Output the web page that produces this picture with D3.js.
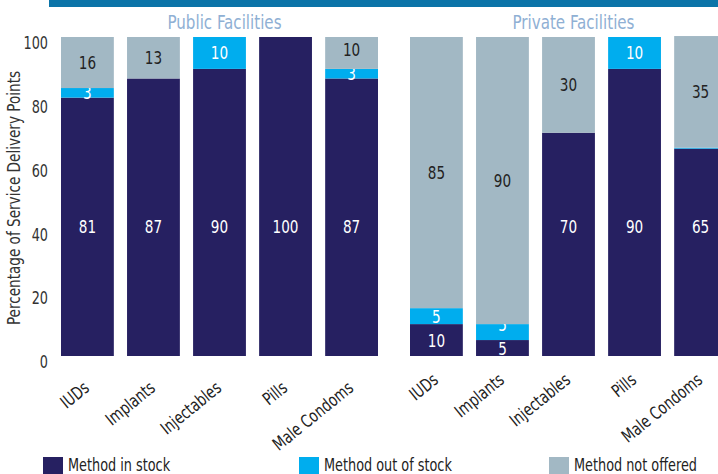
<!DOCTYPE html>
<html><head><meta charset="utf-8">
<script src="https://cdn.jsdelivr.net/npm/d3@7"></script>
<style>
body{margin:0;background:#fff;}
text{font-family:"DejaVu Sans Condensed","Liberation Sans Narrow",sans-serif;font-stretch:condensed;}
</style></head>
<body><svg id="c" width="718" height="474"></svg>
<script>
const categories = ["IUDs","Implants","Injectables","Pills","Male Condoms"];
const panels = ["Public Facilities","Private Facilities"];
const seriesNames = ["Method in stock","Method out of stock","Method not offered"];
const publicInStock = [81,87,90,100,87];
const publicOutOfStock = [3,0,10,0,3];
const publicNotOffered = [16,13,0,0,10];
const privateInStock = [10,5,70,90,65];
const privateOutOfStock = [5,5,0,10,0.3];
const privateNotOffered = [85,90,30,0,35];
const yTicks = [0,20,40,60,80,100];

const colors = ["#262061","#00adee","#a2b8c4"];
const labelColors = ["#ffffff","#ffffff","#222222"];
const SX = 0.84;
const svg = d3.select("#c");

svg.append("rect").attr("x",49).attr("y",0).attr("width",669).attr("height",7).attr("fill","#0b74a8");

const y = d3.scaleLinear().domain([0,100]).range([356,37]);

// y axis
const yAxis = d3.axisLeft(y).tickValues(yTicks).tickSize(0).tickPadding(0);
const ga = svg.append("g").attr("transform","translate(48,0)").call(yAxis);
ga.select(".domain").remove();
ga.selectAll("text").attr("font-size",17).attr("fill","#333").attr("dy","0.75em")
  .attr("transform",`translate(0,-1) scale(${SX},1)`);

svg.append("text").attr("transform",`translate(20,198) rotate(-90) scale(${SX},1)`)
  .attr("text-anchor","middle").attr("font-size",18).attr("fill","#333")
  .text("Percentage of Service Delivery Points");

const panelData = [
  [publicInStock, publicOutOfStock, publicNotOffered],
  [privateInStock, privateOutOfStock, privateNotOffered]
];
const ranges = [[61,378],[410,727]];
const labelY = [390, 382];

panelData.forEach((series, p) => {
  const x = d3.scaleBand().domain(categories).range(ranges[p]).paddingInner(0.2).paddingOuter(0);
  const g = svg.append("g");
  g.append("text").attr("transform",`translate(${(ranges[p][0]+ranges[p][1])/2 + 5},29) scale(${SX},1)`)
    .attr("text-anchor","middle").attr("font-size",20).attr("fill","#8fb0d4").text(panels[p]);
  categories.forEach((c, i) => {
    let base = 0;
    let prevLabel = -100;
    series.forEach((s, k) => {
      const v = s[i];
      if (v > 0) {
        g.append("rect").attr("x",x(c)).attr("width",x.bandwidth())
          .attr("y",y(base+v)).attr("height",y(base)-y(base+v)).attr("fill",colors[k]);
        if (v >= 1) {
          let ly = (base + base + v)/2;
          if (k === 0 && v > 30) ly = 40.5;
          ly = Math.max(ly, prevLabel + 7.5);
          prevLabel = ly;
          g.append("text").attr("transform",`translate(${x(c)+x.bandwidth()/2},${y(ly)}) scale(${SX},1)`)
            .attr("dy","0.36em")
            .attr("text-anchor","middle").attr("font-size",18).attr("fill",labelColors[k]).text(v);
        }
      }
      base += v;
    });
    const cx = x(c)+x.bandwidth()/2 + 3;
    g.append("text").attr("transform",`translate(${cx},${labelY[p]}) rotate(-39) scale(${SX},1)`)
      .attr("text-anchor","end").attr("font-size",17.5).attr("fill","#222").text(c);
  });
});

// legend
const legX = [43,299,549];
seriesNames.forEach((n,k)=>{
  svg.append("rect").attr("x",legX[k]).attr("y",457).attr("width",20).attr("height",17).attr("fill",colors[k]);
  svg.append("text").attr("transform",`translate(${legX[k]+25},471) scale(${SX},1)`)
    .attr("font-size",17).attr("fill","#222").text(n);
});
</script></body></html>
